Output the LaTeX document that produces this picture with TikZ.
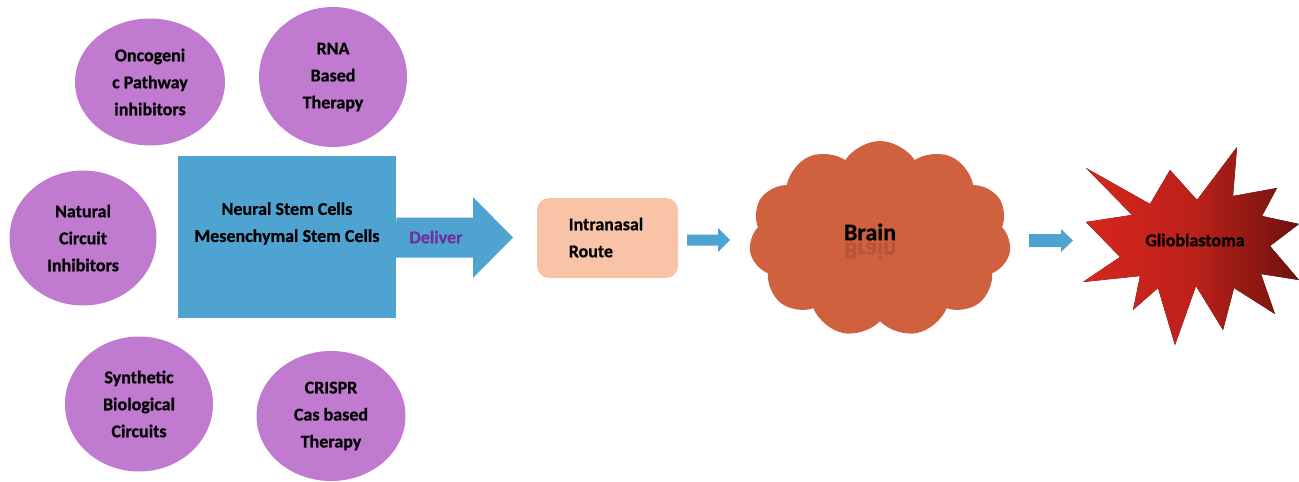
\documentclass[tikz,border=0pt]{standalone}
\usepackage{fontspec}
\setmainfont{Carlito}[BoldFeatures={FakeBold=0.6}]
\usetikzlibrary{shapes.geometric,shapes.symbols}
\definecolor{circpurple}{RGB}{192,122,207}
\definecolor{boxblue}{RGB}{79,163,209}
\definecolor{nasal}{RGB}{249,195,168}
\definecolor{brainred}{RGB}{208,97,63}
\definecolor{delivpurple}{RGB}{112,48,160}
\definecolor{glioL}{RGB}{215,38,30}
\definecolor{glioR}{RGB}{110,18,14}
\tikzset{
  txt/.style={font=\bfseries\fontsize{18}{27}\selectfont, align=center, text=black},
  agent/.style={ellipse, fill=circpurple, draw=none, inner sep=0pt, txt},
  blockarrow/.style={fill=boxblue, draw=none},
}
\begin{document}
\begin{tikzpicture}[x=1pt,y=-1pt]
\useasboundingbox (0,0) rectangle (1299,482);
% agents
\node[agent, minimum width=150pt, minimum height=127pt] (onc) at (150,82) {Oncogeni\\c Pathway\\inhibitors};
\node[agent, minimum width=148pt, minimum height=140pt] (rna) at (333,77) {RNA\\Based\\Therapy};
\node[agent, minimum width=147pt, minimum height=135pt] (nat) at (83,238) {Natural\\Circuit\\Inhibitors};
\node[agent, minimum width=148pt, minimum height=135pt] (syn) at (139,404) {Synthetic\\Biological\\Circuits};
\node[agent, minimum width=149pt, minimum height=130pt] (cri) at (331,416) {CRISPR\\Cas based\\Therapy};
% stem cells box
\node[fill=boxblue, draw=none, minimum width=218pt, minimum height=162pt, inner sep=0pt, anchor=north west] (cells) at (178,156) {};
\node[txt] (cellstxt) at (287,223.5) {Neural Stem Cells\\Mesenchymal Stem Cells};
% intranasal
\node[fill=nasal, draw=none, rounded corners=12pt, minimum width=141pt, minimum height=80pt, inner sep=0pt] (nasalbox) at (607.5,238) {};
\node[txt, align=left] (nasaltxt) at (606,237.5) {Intranasal\\Route};
% brain
\node[cloud, cloud puffs=11, cloud puff arc=115, aspect=1.33, fill=brainred, draw=none,
      minimum width=262pt, minimum height=196pt, inner sep=0pt] (brain) at (880,239) {};
\node[font=\bfseries\fontsize{24}{26}\selectfont] (braintxt) at (870,232) {Brain};
\node[font=\bfseries\fontsize{24}{26}\selectfont, opacity=0.12, yscale=-1] (brainrefl) at (870,251) {Brain};
% glioblastoma star
\fill[left color=glioL, right color=glioR, middle color=glioL!75!glioR]
  (1086,168) -- (1150,204) -- (1170,170) -- (1197,200) -- (1237,147) -- (1233,196)
  -- (1277,188) -- (1262,216) -- (1299,224) -- (1270,246) -- (1299,280) -- (1261,274)
  -- (1275,314) -- (1234,288) -- (1223,330) -- (1196,286) -- (1175,345) -- (1158,288)
  -- (1133,310) -- (1140,276) -- (1083,282) -- (1120,257) -- (1086,222) -- (1132,215) -- cycle;
\node[font=\bfseries\fontsize{18}{20}\selectfont] (glio) at (1195,240) {Glioblastoma};
% connectors (block arrows)
\coordinate (d0) at (cells.east |- 0,237.5);
\coordinate (d1) at (513,237.5);
\fill[blockarrow] (d0) ++(0,-20) -- (473,217.5) -- (473,197) -- (d1) -- (473,278) -- (473,257.5) -- ++(-78,0) -- cycle;
\node[font=\bfseries\fontsize{18}{20}\selectfont, text=delivpurple] (delivtxt) at (436,237) {Deliver};
\coordinate (a1s) at (687,240);
\coordinate (a1e) at (730,240);
\fill[blockarrow] (a1s) ++(0,-5.5) -- (718,234.5) -- (718,228) -- (a1e) -- (718,252) -- (718,245.5) -- (687,245.5) -- cycle;
\coordinate (a2s) at (1029,240.5);
\coordinate (a2e) at (1073,240.5);
\fill[blockarrow] (a2s) ++(0,-6.5) -- (1061,234) -- (1061,229) -- (a2e) -- (1061,252) -- (1061,247) -- (1029,247) -- cycle;
\end{tikzpicture}
\end{document}
